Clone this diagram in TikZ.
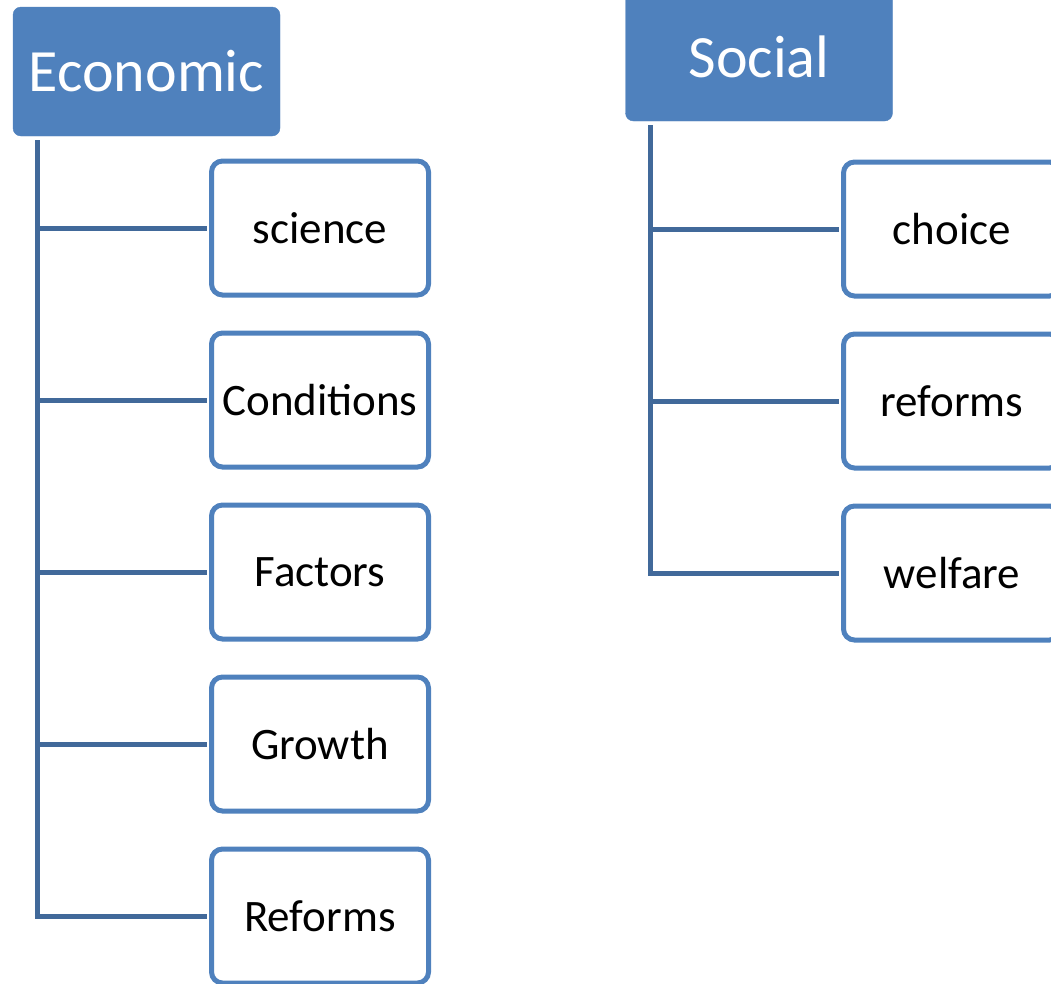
\documentclass[tikz,border=0pt]{standalone}
\usepackage{fontspec}
\setmainfont{Carlito}

\definecolor{boxblue}{HTML}{4F81BD}
\definecolor{linkblue}{HTML}{41699A}

\tikzset{
  head/.style={fill=boxblue, draw=boxblue, rounded corners=8pt,
    minimum width=267pt, minimum height=129pt, inner sep=0pt,
    text=white, font=\fontsize{60}{72}\selectfont},
  leaf/.style={draw=boxblue, line width=5pt, fill=white, rounded corners=11pt,
    minimum width=217pt, minimum height=134pt, inner sep=0pt,
    font=\fontsize{45}{54}\selectfont},
  link/.style={draw=linkblue, line width=5pt, shorten >=2.5pt}
}

\begin{document}
\begin{tikzpicture}[x=1pt,y=-1pt]

\newcommand\LX{320}
\newcommand\RX{952}
\newcommand\DY{172}

\useasboundingbox (0,0) rectangle (1051,983);
\clip (0,0) rectangle (1051,983);

\node[head] (eco) at (146.5,71.5) {Economic};
\node[head] (soc) at (759,56.5) {Social};

\node[leaf] (sci) at (\LX, 228+0*\DY) {science};    % economic
\node[leaf] (con) at (\LX, 228+1*\DY) {Conditions};
\node[leaf] (fac) at (\LX, 228+2*\DY) {Factors};
\node[leaf] (gro) at (\LX, 228+3*\DY) {Growth};
\node[leaf] (ref) at (\LX, 228+4*\DY) {Reforms};

\node[leaf] (cho) at (\RX, 229+0*\DY) {choice};     % social
\node[leaf] (rfm) at (\RX, 229+1*\DY) {reforms};
\node[leaf] (wel) at (\RX, 229+2*\DY) {welfare};

\coordinate (ecotrunk) at (37,140);
\coordinate (soctrunk) at (650,125);

\draw[link] (ecotrunk) |- (sci.west);
\draw[link] (ecotrunk) |- (con.west);
\draw[link] (ecotrunk) |- (fac.west);
\draw[link] (ecotrunk) |- (gro.west);
\draw[link] (ecotrunk) |- (ref.west);

\draw[link] (soctrunk) |- (cho.west);
\draw[link] (soctrunk) |- (rfm.west);
\draw[link] (soctrunk) |- (wel.west);

\end{tikzpicture}
\end{document}
